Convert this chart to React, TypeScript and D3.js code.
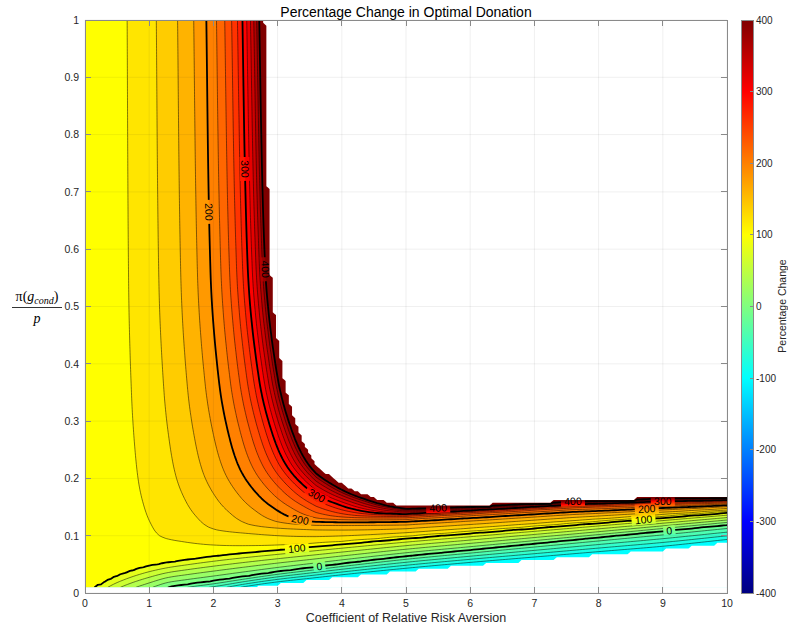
import React, { useEffect, useRef } from "react";
import * as d3 from "d3";

// ---- axis / level definitions ----
const xTicks = [0, 1, 2, 3, 4, 5, 6, 7, 8, 9, 10];
const yTicks = [0, 0.1, 0.2, 0.3, 0.4, 0.5, 0.6, 0.7, 0.8, 0.9, 1];
const cbTicks = [-400, -300, -200, -100, 0, 100, 200, 300, 400];
const fillLevels = [-100, -80, -60, -40, -20, 0, 20, 40, 60, 80, 100, 120, 140, 160, 180, 200, 220, 240, 260, 280, 300, 320, 340, 360, 380, 400];
const lineLevels = [-80, -60, -40, -20, 0, 20, 40, 60, 80, 100, 120, 140, 160, 180, 200, 220, 240, 260, 280, 300, 320, 340, 360, 380, 400];
const thickLevels = [0, 100, 200, 300, 400];

// ---- field readings (risk aversion gamma vs pi(g_cond)/p) ----
const gammaKnots = [0, 0.25, 0.5, 1, 1.3, 1.6, 2, 2.5, 3, 3.5, 4, 5, 6, 7, 8, 9, 10];
const k100Line = [0, 0.015, 0.029, 0.047, 0.053, 0.058, 0.064, 0.07, 0.075, 0.08, 0.085, 0.095, 0.104, 0.113, 0.122, 0.131, 0.14];
const kZeroLine = [-0.08, -0.045, -0.025, -0.002, 0.01, 0.015, 0.021, 0.029, 0.037, 0.044, 0.051, 0.064, 0.075, 0.086, 0.097, 0.108, 0.119];
const kMinus100Line = [-0.16, -0.1, -0.07, -0.035, -0.02, -0.01, -0.004, 0.007, 0.015, 0.021, 0.027, 0.038, 0.048, 0.057, 0.066, 0.075, 0.087];
// growth of the upper branch (above the 100 % line)
const uKnots = [0, 0.005, 0.01, 0.015, 0.02, 0.03, 0.05, 0.075, 0.1, 0.15, 0.2, 0.3, 0.5, 1.0];
const cVals = [0, 0.05, 0.07, 0.086, 0.099, 0.122, 0.17, 0.193, 0.21, 0.235, 0.25, 0.27, 0.289, 0.3];
const aGammaKnots = [0, 3.6, 5, 7.6, 9, 10];
const aVals = [0, 3.6, 4.7, 5.3, 6.1, 7.0];
const capPercent = 450;

// ---- contour labels (level, gamma, ratio) ----
const labelLevels = [200, 300, 400, 300, 200, 100, 0, 400, 400, 300, 200, 100, 0];
const labelGamma = [1.9, 2.445, 2.74, 3.6, 3.36, 3.29, 3.66, 5.48, 7.6, 9.0, 8.77, 8.69, 9.08];
const labelK = [0.663, 0.738, 0.567, 0.166, 0.126, 0.077, 0.045, 0.15, 0.157, 0.159, 0.148, 0.131, 0.108];

function monotone(xs: number[], ys: number[]) {
  const n = xs.length;
  const h: number[] = [], d: number[] = [], m: number[] = new Array(n);
  for (let i = 0; i < n - 1; i++) {
    h[i] = xs[i + 1] - xs[i];
    d[i] = (ys[i + 1] - ys[i]) / h[i];
  }
  m[0] = d[0];
  m[n - 1] = d[n - 2];
  for (let i = 1; i < n - 1; i++) {
    if (d[i - 1] * d[i] <= 0) m[i] = 0;
    else {
      const w1 = 2 * h[i] + h[i - 1], w2 = h[i] + 2 * h[i - 1];
      m[i] = (w1 + w2) / (w1 / d[i - 1] + w2 / d[i]);
    }
  }
  return (v: number) => {
    if (v <= xs[0]) return ys[0];
    if (v >= xs[n - 1]) return ys[n - 1];
    let i = 0;
    while (xs[i + 1] < v) i++;
    const t = (v - xs[i]) / h[i];
    const t2 = t * t, t3 = t2 * t;
    return (2 * t3 - 3 * t2 + 1) * ys[i] + (t3 - 2 * t2 + t) * h[i] * m[i] + (-2 * t3 + 3 * t2) * ys[i + 1] + (t3 - t2) * h[i] * m[i + 1];
  };
}
function linear(xs: number[], ys: number[]) {
  return (v: number) => {
    const n = xs.length;
    if (v <= xs[0]) return ys[0];
    if (v >= xs[n - 1]) return ys[n - 1];
    let i = 1;
    while (xs[i] < v) i++;
    const t = (v - xs[i - 1]) / (xs[i] - xs[i - 1]);
    return ys[i - 1] + t * (ys[i] - ys[i - 1]);
  };
}

const f100 = monotone(gammaKnots, k100Line);
const fZero = monotone(gammaKnots, kZeroLine);
const fM100 = monotone(gammaKnots, kMinus100Line);
const fC = monotone(uKnots, cVals);
const fA = linear(aGammaKnots, aVals);
const capT = 1 - Math.pow(100 / capPercent, 1.2);

function field(g: number, k: number): { state: string; p: number } {
  const k100 = f100(g);
  if (k >= k100) {
    const t = fA(g) * fC(k - k100);
    if (t >= capT) return { state: "top", p: NaN };
    return { state: "ok", p: 100 * Math.pow(1 - t, -1 / 1.2) };
  }
  const k0 = fZero(g);
  if (k >= k0) return { state: "ok", p: (100 * (k - k0)) / (k100 - k0) };
  const km = fM100(g);
  if (k >= km) return { state: "ok", p: -100 + (100 * (k - km)) / (k0 - km) };
  return { state: "bottom", p: NaN };
}

function jet(v: number) {
  const t = (v + 400) / 800;
  const c = (a: number) => Math.max(0, Math.min(1, a));
  return d3.rgb(255 * c(1.5 - Math.abs(4 * t - 3)), 255 * c(1.5 - Math.abs(4 * t - 2)), 255 * c(1.5 - Math.abs(4 * t - 1))).formatHex();
}

const FONT = "'Liberation Sans', Arial, Helvetica, sans-serif";

export default function App() {
  const ref = useRef<SVGSVGElement | null>(null);
  useEffect(() => {
    const el = ref.current;
    if (!el) return;
    document.body.style.margin = "0";
    const svg = d3.select(el);
    svg.selectAll("*").remove();

    const x = d3.scaleLinear().domain([0, 10]).range([85, 727]);
    const y = d3.scaleLinear().domain([0, 1]).range([593, 20]);

    const gStep = 0.05, kStep = 0.005, k0 = 0.01;
    const nx = Math.round(10 / gStep) + 1;
    const ny = Math.round(0.99 / kStep) + 1;
    const vals: number[] = new Array(nx * ny);
    const bad: number[] = new Array(nx * ny);
    for (let j = 0; j < ny; j++) {
      for (let i = 0; i < nx; i++) {
        const r = field(i * gStep, k0 + j * kStep);
        vals[j * nx + i] = r.state === "ok" ? r.p : r.state === "top" ? 999 : -99.9;
        bad[j * nx + i] = r.state === "ok" ? 0 : 1;
      }
    }
    const gen = d3.contours().size([nx, ny]).smooth(true);
    const toPx = (cx: number, cy: number): [number, number] => [x((cx - 0.5) * gStep), y(k0 + (cy - 0.5) * kStep)];
    const proj = d3.geoTransform({
      point(cx: number, cy: number) {
        const p = toPx(cx, cy);
        (this as any).stream.point(p[0], p[1]);
      },
    });
    const path = d3.geoPath(proj as any);

    const defs = svg.append("defs");
    defs.append("clipPath").attr("id", "dataClip").append("rect")
      .attr("x", x(0)).attr("y", y(1)).attr("width", x(10) - x(0)).attr("height", y(0.01) - y(1));

    // fills
    const gFill = svg.append("g").attr("clip-path", "url(#dataClip)");
    const contourByLevel: Record<number, any> = {};
    fillLevels.forEach((L) => {
      const c = gen.contour(vals, L);
      contourByLevel[L] = c;
      gFill.append("path").attr("d", path(c as any)).attr("fill", jet(L)).attr("stroke", "none");
    });

    // label geometry
    const labels: { x: number; y: number; a: number; text: string }[] = [];
    labelLevels.forEach((L, idx) => {
      const ax = x(labelGamma[idx]), ay = y(labelK[idx]);
      const c = contourByLevel[L];
      let best = { d: Infinity, x: ax, y: ay, a: 0 };
      if (c) {
        c.coordinates.forEach((poly: any) => poly.forEach((ring: any) => {
          const pts = ring.map((p: number[]) => toPx(p[0], p[1]));
          for (let i = 1; i < pts.length - 1; i++) {
            const p = pts[i];
            if (p[0] < x(0) || p[0] > x(10) || p[1] < y(1) || p[1] > y(0.01)) continue;
            const d = Math.hypot(p[0] - ax, p[1] - ay);
            if (d < best.d) {
              const q0 = pts[Math.max(0, i - 3)], q1 = pts[Math.min(pts.length - 1, i + 3)];
              let a = (Math.atan2(q1[1] - q0[1], q1[0] - q0[0]) * 180) / Math.PI;
              if (a > 90) a -= 180;
              if (a < -90) a += 180;
              best = { d, x: p[0], y: p[1], a };
            }
          }
        }));
      }
      labels.push({ x: best.x, y: best.y, a: best.a, text: String(L) });
    });

    const mask = defs.append("mask").attr("id", "gapMask").attr("maskUnits", "userSpaceOnUse")
      .attr("x", 0).attr("y", 0).attr("width", 788).attr("height", 627);
    mask.append("rect").attr("x", 0).attr("y", 0).attr("width", 788).attr("height", 627).attr("fill", "white");
    labels.forEach((lb) => {
      const w = lb.text.length * 6 + 6;
      mask.append("rect").attr("x", -w / 2).attr("y", -5).attr("width", w).attr("height", 10)
        .attr("fill", "black").attr("transform", `translate(${lb.x},${lb.y}) rotate(${lb.a})`);
    });

    // lines
    const gLines = svg.append("g").attr("clip-path", "url(#dataClip)").append("g").attr("mask", "url(#gapMask)");
    lineLevels.forEach((L) => {
      const c = contourByLevel[L];
      const thick = thickLevels.includes(L);
      gLines.append("path").attr("d", path(c as any)).attr("fill", "none")
        .attr("stroke", "#000").attr("stroke-width", thick ? 1.8 : 0.5).attr("stroke-linejoin", "round");
    });

    // NaN mask
    const badC = d3.contours().size([nx, ny]).smooth(true).contour(bad, 0.5);
    svg.append("g").attr("clip-path", "url(#dataClip)").append("path").attr("d", path(badC as any)).attr("fill", "#fff");
    svg.append("rect").attr("x", x(0)).attr("y", y(0.01)).attr("width", x(10) - x(0)).attr("height", y(0) - y(0.01)).attr("fill", "#fff");

    // grid
    const grid = svg.append("g").attr("stroke", "#262626").attr("stroke-opacity", 0.12).attr("stroke-width", 0.6);
    xTicks.forEach((t) => grid.append("line").attr("x1", x(t)).attr("x2", x(t)).attr("y1", y(0)).attr("y2", y(1)));
    yTicks.forEach((t) => grid.append("line").attr("x1", x(0)).attr("x2", x(10)).attr("y1", y(t)).attr("y2", y(t)));

    // labels
    labels.forEach((lb) => {
      svg.append("text").attr("transform", `translate(${lb.x},${lb.y}) rotate(${lb.a})`)
        .attr("text-anchor", "middle").attr("dy", "0.35em").attr("font-family", FONT).attr("font-size", 10.5)
        .attr("fill", "#000").text(lb.text);
    });

    // axes box & ticks
    const ax = svg.append("g").attr("stroke", "#8a8a8a").attr("stroke-width", 1).attr("shape-rendering", "crispEdges");
    ax.append("rect").attr("x", x(0)).attr("y", y(1)).attr("width", x(10) - x(0)).attr("height", y(0) - y(1)).attr("fill", "none");
    const tl = 6;
    xTicks.forEach((t) => {
      ax.append("line").attr("x1", x(t)).attr("x2", x(t)).attr("y1", y(0)).attr("y2", y(0) - tl);
      ax.append("line").attr("x1", x(t)).attr("x2", x(t)).attr("y1", y(1)).attr("y2", y(1) + tl);
    });
    yTicks.forEach((t) => {
      ax.append("line").attr("x1", x(0)).attr("x2", x(0) + tl).attr("y1", y(t)).attr("y2", y(t));
      ax.append("line").attr("x1", x(10)).attr("x2", x(10) - tl).attr("y1", y(t)).attr("y2", y(t));
    });
    const txt = svg.append("g").attr("font-family", FONT).attr("fill", "#262626");
    xTicks.forEach((t) => txt.append("text").attr("x", x(t)).attr("y", 607).attr("text-anchor", "middle").attr("font-size", 10.5).text(String(t)));
    yTicks.forEach((t) => txt.append("text").attr("x", 79).attr("y", y(t) + 3.8).attr("text-anchor", "end").attr("font-size", 10.5).text(String(t)));
    txt.append("text").attr("x", 406).attr("y", 622).attr("text-anchor", "middle").attr("font-size", 12.5).text("Coefficient of Relative Risk Aversion");
    svg.append("text").attr("x", 406).attr("y", 17).attr("text-anchor", "middle").attr("font-family", FONT).attr("font-size", 14).attr("fill", "#000").text("Percentage Change in Optimal Donation");

    // y label as fraction
    const yl = svg.append("g").attr("font-family", "'Liberation Serif', 'DejaVu Serif', serif").attr("fill", "#000");
    const num = yl.append("text").attr("x", 37).attr("y", 301).attr("text-anchor", "middle").attr("font-size", 14);
    num.append("tspan").text("π(");
    num.append("tspan").attr("font-style", "italic").text("g");
    num.append("tspan").attr("font-style", "italic").attr("font-size", 10).attr("dy", 3).text("cond");
    num.append("tspan").attr("dy", -3).text(")");
    yl.append("line").attr("x1", 12).attr("x2", 62).attr("y1", 307.5).attr("y2", 307.5).attr("stroke", "#000").attr("stroke-width", 0.8);
    yl.append("text").attr("x", 37).attr("y", 323).attr("text-anchor", "middle").attr("font-size", 14).attr("font-style", "italic").text("p");

    // colorbar
    const cbX = 741, cbW = 12;
    const cy = d3.scaleLinear().domain([-400, 400]).range([593, 20]);
    const grad = defs.append("linearGradient").attr("id", "jetGrad").attr("x1", 0).attr("y1", 1).attr("x2", 0).attr("y2", 0);
    for (let i = 0; i <= 64; i++) {
      const v = -400 + (800 * i) / 64;
      grad.append("stop").attr("offset", i / 64).attr("stop-color", jet(v));
    }
    svg.append("rect").attr("x", cbX).attr("y", cy(400)).attr("width", cbW).attr("height", cy(-400) - cy(400)).attr("fill", "url(#jetGrad)");
    const cbA = svg.append("g").attr("stroke", "#8a8a8a").attr("shape-rendering", "crispEdges");
    cbA.append("rect").attr("x", cbX).attr("y", cy(400)).attr("width", cbW).attr("height", cy(-400) - cy(400)).attr("fill", "none");
    cbTicks.forEach((t) => {
      cbA.append("line").attr("x1", cbX + cbW - 3).attr("x2", cbX + cbW).attr("y1", cy(t)).attr("y2", cy(t));
      txt.append("text").attr("x", cbX + cbW + 3).attr("y", cy(t) + 3.5).attr("font-size", 10).text(String(t));
    });
    svg.append("text").attr("transform", "translate(785.5,306) rotate(-90)").attr("text-anchor", "middle")
      .attr("font-family", FONT).attr("font-size", 10.5).attr("fill", "#262626").text("Percentage Change");
  }, []);
  return <svg ref={ref} width={788} height={627} style={{ display: "block", background: "#fff" }} />;
}
